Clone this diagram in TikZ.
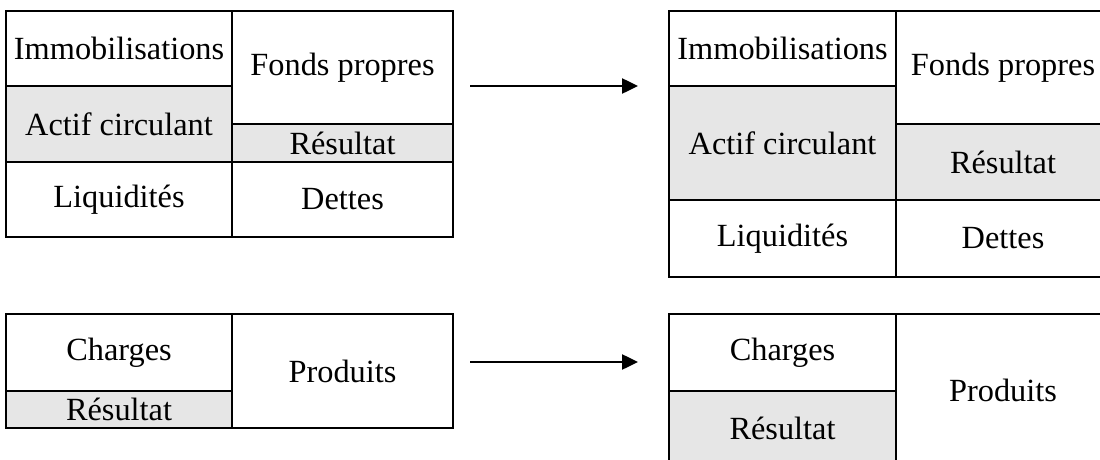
\documentclass[tikz,border=0pt]{standalone}
\usepackage{fontspec}
\setmainfont{Liberation Serif}
\usetikzlibrary{positioning, arrows.meta}

\definecolor{gris}{RGB}{230,230,230}

\tikzset{
  cell/.style={draw, line width=1.6pt, inner sep=0pt, outer sep=0pt, anchor=north west,
               font=\fontsize{23}{27}\selectfont},
  grise/.style={cell, fill=gris},
  fleche/.style={line width=1.3pt, -{Triangle[length=0.4cm, width=0.38cm]}}
}

\begin{document}
\begin{tikzpicture}[x=0.025cm, y=-0.025cm]

        \path[use as bounding box, clip] (0,0) rectangle (1100,460);

        %BILAN AVANT
        \node[cell,  minimum width=5.65cm,  minimum height=1.875cm] (immoA)   at (6,11)    {Immobilisations};
        \node[grise, minimum width=5.65cm,  minimum height=1.9cm]   (actifA)  at (6,86)    {Actif circulant};
        \node[cell,  minimum width=5.65cm,  minimum height=1.875cm] (liqA)    at (6,162)   {Liquidités};
        \node[cell,  minimum width=5.525cm, minimum height=2.825cm] (fondsA)  at (232,11)  {Fonds propres};
        \node[grise, minimum width=5.525cm, minimum height=0.95cm]  (resA)    at (232,124) {Résultat};
        \node[cell,  minimum width=5.525cm, minimum height=1.875cm] (dettesA) at (232,162) {Dettes};

        %BILAN APRES
        \node[cell,  minimum width=5.675cm, minimum height=1.875cm] (immoB)   at (669,11)  {Immobilisations};
        \node[grise, minimum width=5.675cm, minimum height=2.85cm]  (actifB)  at (669,86)  {Actif circulant};
        \node[cell,  minimum width=5.675cm, minimum height=1.925cm] (liqB)    at (669,200) {Liquidités};
        \node[cell,  minimum width=5.35cm,  minimum height=2.825cm] (fondsB)  at (896,11)  {Fonds propres};
        \node[grise, minimum width=5.35cm,  minimum height=1.9cm]   (resB)    at (896,124) {Résultat};
        \node[cell,  minimum width=5.35cm,  minimum height=1.925cm] (dettesB) at (896,200) {Dettes};

        %COMPTE DE RESULTAT AVANT
        \node[cell,  minimum width=5.65cm,  minimum height=1.925cm] (chargesA)  at (6,314)   {Charges};
        \node[grise, minimum width=5.65cm,  minimum height=0.925cm] (resC)      at (6,391)   {Résultat};
        \node[cell,  minimum width=5.525cm, minimum height=2.85cm]  (produitsA) at (232,314) {Produits};

        %COMPTE DE RESULTAT APRES
        \node[cell,  minimum width=5.675cm, minimum height=1.925cm] (chargesB)  at (669,314) {Charges};
        \node[grise, minimum width=5.675cm, minimum height=1.875cm] (resD)      at (669,391) {Résultat};
        \node[cell,  minimum width=5.35cm,  minimum height=3.8cm]   (produitsB) at (896,314) {Produits};

        % FLECHES
        \coordinate (d1) at (470,86);
        \coordinate (f1) at (638,86);
        \coordinate (d2) at (470,362);
        \coordinate (f2) at (638,362);
        \draw[fleche] (d1) -- (f1);
        \draw[fleche] (d2) -- (f2);

    \end{tikzpicture}
\end{document}
